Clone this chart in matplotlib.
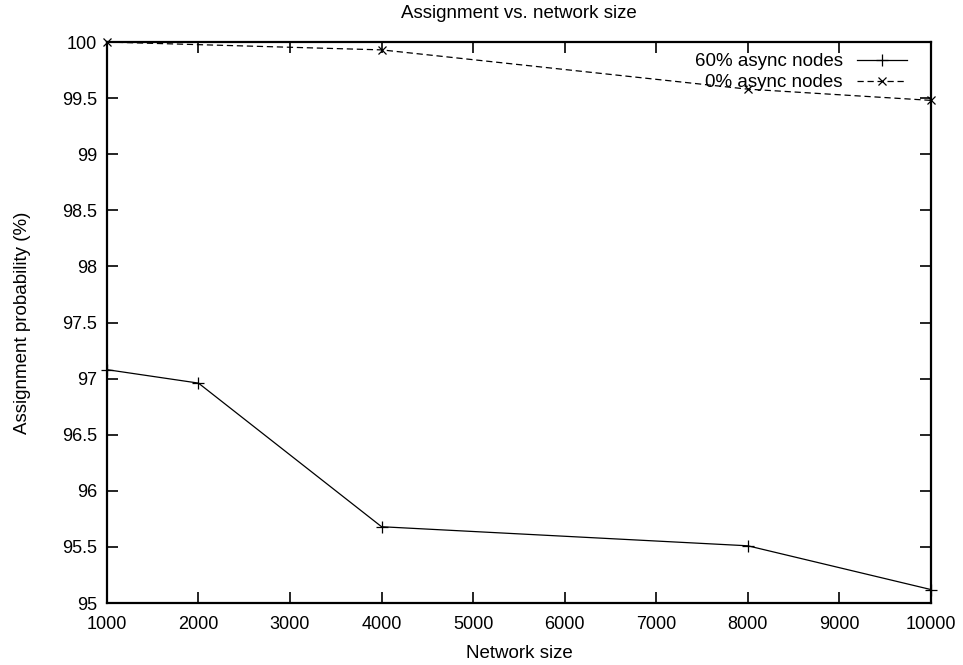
import matplotlib
matplotlib.use('Agg')
import matplotlib.pyplot as plt

plt.rcParams['font.family'] = ['Liberation Sans', 'DejaVu Sans']

# network sizes and assignment probability (%) per async fraction
sizes_60 = [1000, 2000, 4000, 8000, 10000]
prob_60 = [97.08, 96.96, 95.68, 95.51, 95.12]
sizes_0 = [1000, 4000, 8000, 10000]
prob_0 = [100.0, 99.93, 99.58, 99.48]

x_ticks = [1000, 2000, 3000, 4000, 5000, 6000, 7000, 8000, 9000, 10000]
y_ticks = [95, 95.5, 96, 96.5, 97, 97.5, 98, 98.5, 99, 99.5, 100]
y_tick_labels = ['95', '95.5', '96', '96.5', '97', '97.5', '98', '98.5', '99', '99.5', '100']

FS = 13.5
TICK_FS = 13

fig = plt.figure(figsize=(9.63, 6.65), dpi=100)
ax = fig.add_axes([0.111, 0.0932, 0.8557, 0.8436])

ax.plot(sizes_60, prob_60, color='black', linewidth=0.9, marker='+',
        markersize=9, markeredgewidth=0.9, label='60% async nodes', clip_on=False)
ax.plot(sizes_0, prob_0, color='black', linewidth=0.9, linestyle=(0, (5, 3)),
        marker='x', markersize=6, markeredgewidth=0.9, label='0% async nodes', clip_on=False)

ax.set_xlim(1000, 10000)
ax.set_ylim(95, 100)
ax.set_xticks(x_ticks)
ax.set_xticklabels([str(v) for v in x_ticks])
ax.set_yticks(y_ticks)
ax.set_yticklabels(y_tick_labels)
ax.tick_params(direction='in', length=8, width=1.2, top=True, right=True,
               labelsize=TICK_FS)
ax.tick_params(axis='x', pad=9)
ax.tick_params(axis='y', pad=7)
for sp in ax.spines.values():
    sp.set_linewidth(1.6)

ax.set_title('Assignment vs. network size', fontsize=FS, pad=17)
ax.set_xlabel('Network size', fontsize=FS, labelpad=9)
ax.set_ylabel('Assignment probability (%)', fontsize=FS, labelpad=22)

ax.legend(loc='upper right', frameon=False, markerfirst=False, fontsize=FS,
          handlelength=2.7, handletextpad=0.75, labelspacing=0.2,
          bbox_to_anchor=(0.985, 1.0), borderaxespad=0.2)
for t in ax.get_legend().get_texts():
    t.set_ha('right')

fig.savefig('out.png', dpi=100)
